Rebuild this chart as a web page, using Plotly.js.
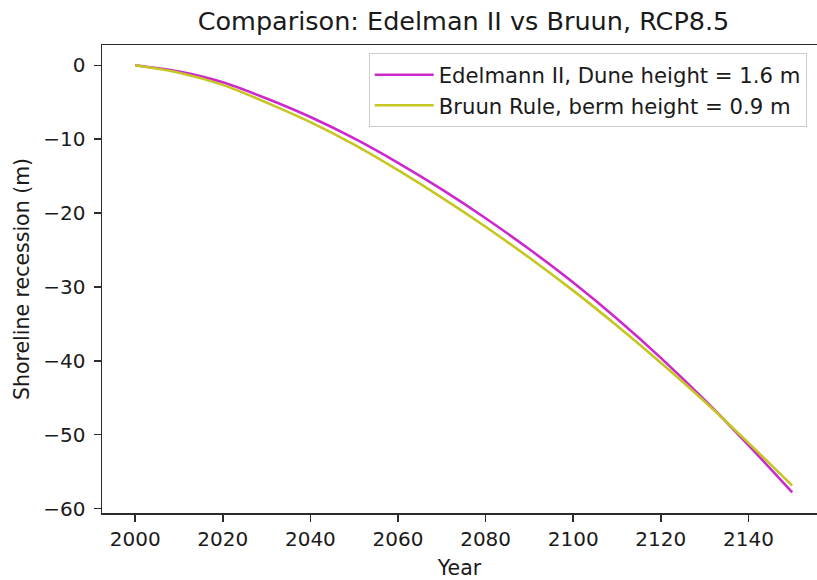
<!DOCTYPE html>
<html>
<head>
<meta charset="utf-8">
<script src="https://cdn.plot.ly/plotly-3.0.1.min.js"></script>
<style>
  html, body { margin: 0; padding: 0; background: #ffffff; }
  #chart { width: 817px; height: 580px; }
</style>
</head>
<body>
<div id="chart"></div>
<script>
// Shoreline recession projections under RCP8.5 (metres, negative = landward retreat)
const years = [2000, 2010, 2020, 2030, 2040, 2050, 2060, 2070, 2080, 2090, 2100, 2110, 2120, 2130, 2140, 2150];
const edelmannII = [0, -0.85, -2.3, -4.5, -7.0, -9.9, -13.2, -16.8, -20.7, -24.9, -29.4, -34.3, -39.6, -45.3, -51.4, -57.8];
const bruunRule = [0, -1.0, -2.65, -5.05, -7.7, -10.75, -14.2, -17.9, -21.85, -26.05, -30.5, -35.25, -40.25, -45.5, -51.1, -56.9];

const seriesNames = ['Edelmann II, Dune height = 1.6 m', 'Bruun Rule, berm height = 0.9 m'];
const xTicks = [2000, 2020, 2040, 2060, 2080, 2100, 2120, 2140];
const yTicks = [0, -10, -20, -30, -40, -50, -60];

const FONT = 'DejaVu Sans, Verdana, sans-serif';
const INK = '#1a1a1a';
const SPINE = '#2b2b2b';

const traces = [
  {
    x: years, y: edelmannII, name: seriesNames[0], type: 'scatter', mode: 'lines',
    line: { color: '#cc28cc', width: 2.6, shape: 'spline', smoothing: 0.8 },
    legendgroup: 'a'
  },
  {
    x: years, y: bruunRule, name: seriesNames[1], type: 'scatter', mode: 'lines',
    line: { color: '#c6c622', width: 2.6, shape: 'spline', smoothing: 0.8 },
    legendgroup: 'b'
  }
];

const layout = {
  width: 817,
  height: 580,
  margin: { l: 102, r: 0, t: 45, b: 67 },
  paper_bgcolor: '#ffffff',
  plot_bgcolor: '#ffffff',
  font: { family: FONT, size: 20, color: INK },
  title: {
    text: 'Comparison: Edelman II vs Bruun, RCP8.5',
    font: { family: FONT, size: 25.5, color: INK },
    xref: 'container', x: 463.5 / 817, xanchor: 'center',
    yref: 'container', y: (580 - 30) / 580, yanchor: 'bottom'
  },
  xaxis: {
    range: [1992.42, 2155.66],
    tickmode: 'array', tickvals: xTicks,
    ticks: 'outside', ticklen: 7, tickwidth: 1.5, tickcolor: SPINE,
    showline: true, linecolor: SPINE, linewidth: 1.5, mirror: true,
    showgrid: false, zeroline: false,
    tickfont: { family: FONT, size: 20, color: INK },
    title: { text: 'Year', font: { family: FONT, size: 20.5, color: INK }, standoff: 15 }
  },
  yaxis: {
    range: [-60.6, 2.75],
    tickmode: 'array', tickvals: yTicks,
    ticks: 'outside', ticklen: 7, tickwidth: 1.5, tickcolor: SPINE,
    showline: true, linecolor: SPINE, linewidth: 1.5, mirror: false,
    showgrid: false, zeroline: false,
    ticklabelstandoff: 4,
    tickfont: { family: FONT, size: 20, color: INK },
    title: { text: 'Shoreline recession (m)', font: { family: FONT, size: 20.5, color: INK }, standoff: 8 }
  },
  showlegend: true,
  legend: {
    x: 0.9856, xanchor: 'right',
    y: 0.982, yanchor: 'top',
    bgcolor: 'rgba(255,255,255,0.85)',
    bordercolor: '#cccccc', borderwidth: 1,
    font: { family: FONT, size: 21.2, color: INK },
    tracegroupgap: 0,
    itemwidth: 59
  }
};

Plotly.newPlot('chart', traces, layout, { staticPlot: true, displayModeBar: false });
</script>
</body>
</html>
